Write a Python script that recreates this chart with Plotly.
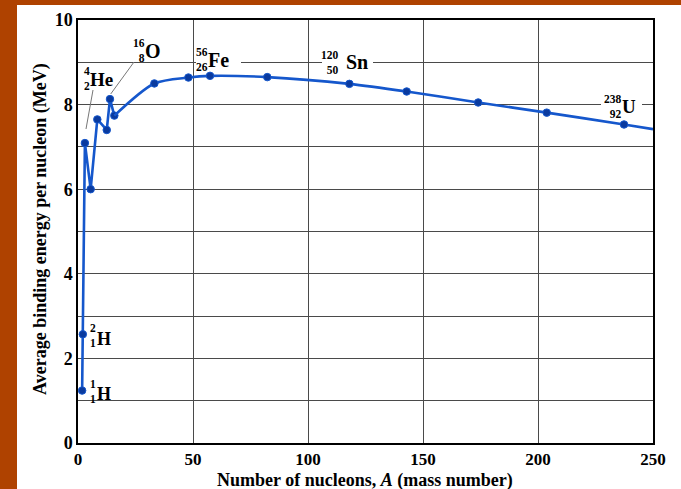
import plotly.graph_objects as go

# ---- data ----
mass_number = [1.8, 2.1, 3.0, 5.5, 8.4, 12.5, 13.9, 15.8, 33.2, 48.0, 57.4, 82.3, 118.0, 142.9, 174.0, 203.8, 237.4]
binding_energy = [1.24, 2.57, 7.09, 6.00, 7.65, 7.40, 8.13, 7.74, 8.50, 8.64, 8.68, 8.65, 8.49, 8.31, 8.05, 7.81, 7.53]
curve_end_A = 250.0
curve_end_E = 7.42

x_ticks = [0, 50, 100, 150, 200, 250]
y_ticks = [0, 2, 4, 6, 8, 10]

x_title = "<b>Number of nucleons, <i>A</i> (mass number)</b>"
y_title = "<b>Average binding energy per nucleon (MeV)</b>"

# nuclide labels: (mass number, atomic number, symbol)
labels = [("1", "1", "H"), ("2", "1", "H"), ("4", "2", "He"), ("16", "8", "O"),
          ("56", "26", "Fe"), ("120", "50", "Sn"), ("238", "92", "U")]

# ---- layout geometry ----
W, H = 681, 489
L, R, T, B = 78, 653, 20, 443
XMAX, YMAX = 250.0, 10.0


def px2x(px):
    return (px - L) / (R - L) * XMAX


def py2y(py):
    return (B - py) / (B - T) * YMAX


def pxp(px):
    return (px - L) / (R - L)


def pyp(py):
    return (B - py) / (B - T)


SERIF = "Liberation Serif"
LINE_COLOR = "#1557CC"
MARK_COLOR = "#0A3A9E"

fig = go.Figure()

# jagged light-nuclei part
n_light = 8
fig.add_trace(go.Scatter(
    x=mass_number[:n_light], y=binding_energy[:n_light], mode="lines+markers",
    line=dict(color=LINE_COLOR, width=2.6),
    marker=dict(size=7.5, color=MARK_COLOR, line=dict(color=LINE_COLOR, width=1)),
    showlegend=False, hoverinfo="x+y"))

# smooth heavy part
hx = mass_number[n_light - 1:] + [curve_end_A]
hy = binding_energy[n_light - 1:] + [curve_end_E]
fig.add_trace(go.Scatter(
    x=hx, y=hy, mode="lines",
    line=dict(color=LINE_COLOR, width=2.6, shape="spline", smoothing=0.8),
    showlegend=False, hoverinfo="skip"))
fig.add_trace(go.Scatter(
    x=mass_number[n_light:], y=binding_energy[n_light:], mode="markers",
    marker=dict(size=7.5, color=MARK_COLOR, line=dict(color=LINE_COLOR, width=1)),
    showlegend=False, hoverinfo="x+y"))

shapes = []
# page: orange frame with white inner page
shapes.append(dict(type="rect", xref="paper", yref="paper", layer="below",
                   x0=pxp(17), x1=pxp(W + 5), y0=pyp(H + 5), y1=pyp(5),
                   fillcolor="white", line=dict(width=0)))

# white boxes behind labels that interrupt gridlines
for (x0, x1, y0, y1) in [(196, 241, 47, 71), (322, 373, 50, 72), (601, 642, 94, 118)]:
    shapes.append(dict(type="rect", xref="x", yref="y", layer="above",
                       x0=px2x(x0), x1=px2x(x1), y0=py2y(y1), y1=py2y(y0),
                       fillcolor="white", line=dict(width=0)))

# leader lines for He and O
for (a, b, c, d) in [(86, 129, 93, 90), (110.7, 94, 134, 62)]:
    shapes.append(dict(type="line", xref="x", yref="y", layer="above",
                       x0=px2x(a), y0=py2y(b), x1=px2x(c), y1=py2y(d),
                       line=dict(color="#777777", width=1)))

# label pixel positions: (numbers right edge, numbers centre y, symbol left, symbol y, symbol size)
label_pos = [
    (97, 391, 96, 394, 18),
    (97, 335, 96, 339, 18),
    (91, 78, 89, 79, 19),
    (146, 50, 144, 51, 20),
    (209, 59, 207, 60, 20),
    (340, 62, 345, 62, 20),
    (623, 106, 621, 106, 19),
]

annotations = []
for (m, z, sym), (nx, ny, sx, sy, fs) in zip(labels, label_pos):
    annotations.append(dict(x=px2x(nx), y=py2y(ny), xref="x", yref="y",
                            text="<b>" + m + "</b><br><b>" + z + "</b>",
                            showarrow=False, xanchor="right", yanchor="middle", align="right",
                            font=dict(family=SERIF, size=11.5, color="black"),
                            borderpad=0))
    annotations.append(dict(x=px2x(sx), y=py2y(sy), xref="x", yref="y", text="<b>" + sym + "</b>",
                            showarrow=False, xanchor="left", yanchor="middle",
                            font=dict(family=SERIF, size=fs, color="black"),
                            borderpad=0))

# axis titles
annotations.append(dict(x=pxp(365), y=pyp(480), xref="paper", yref="paper", text=x_title,
                        showarrow=False, xanchor="center", yanchor="middle",
                        font=dict(family=SERIF, size=18, color="black"), borderpad=0))
annotations.append(dict(x=pxp(40), y=pyp(229), xref="paper", yref="paper", text=y_title,
                        showarrow=False, xanchor="center", yanchor="middle", textangle=-90,
                        font=dict(family=SERIF, size=18, color="black"), borderpad=0))

fig.update_layout(
    width=W, height=H,
    margin=dict(l=L, r=W - R, t=T, b=H - B, pad=0, autoexpand=False),
    paper_bgcolor="#AF4200",
    plot_bgcolor="white",
    shapes=shapes,
    annotations=annotations,
    font=dict(family=SERIF, color="black"),
    xaxis=dict(
        range=[0, XMAX], tickvals=x_ticks, ticktext=["<b>%d</b>" % v for v in x_ticks],
        showgrid=True, gridcolor="#4a4a4a", gridwidth=1,
        showline=True, linecolor="black", linewidth=1.5, mirror=True,
        ticks="", zeroline=False, automargin=False,
        tickfont=dict(family=SERIF, size=17, color="black"),
    ),
    yaxis=dict(
        range=[0, YMAX], tickvals=y_ticks, ticktext=["<b>%d</b>" % v for v in y_ticks],
        showgrid=True, gridcolor="#4a4a4a", gridwidth=1,
        minor=dict(dtick=1, showgrid=True, gridcolor="#4a4a4a", gridwidth=1, ticks=""),
        showline=True, linecolor="black", linewidth=1.5, mirror=True,
        ticks="", zeroline=False, automargin=False,
        tickfont=dict(family=SERIF, size=18, color="black"),
    ),
)

fig.write_html("out.html", config={"displayModeBar": False},
               post_script="document.body.style.margin='0';document.body.style.overflow='hidden';")
